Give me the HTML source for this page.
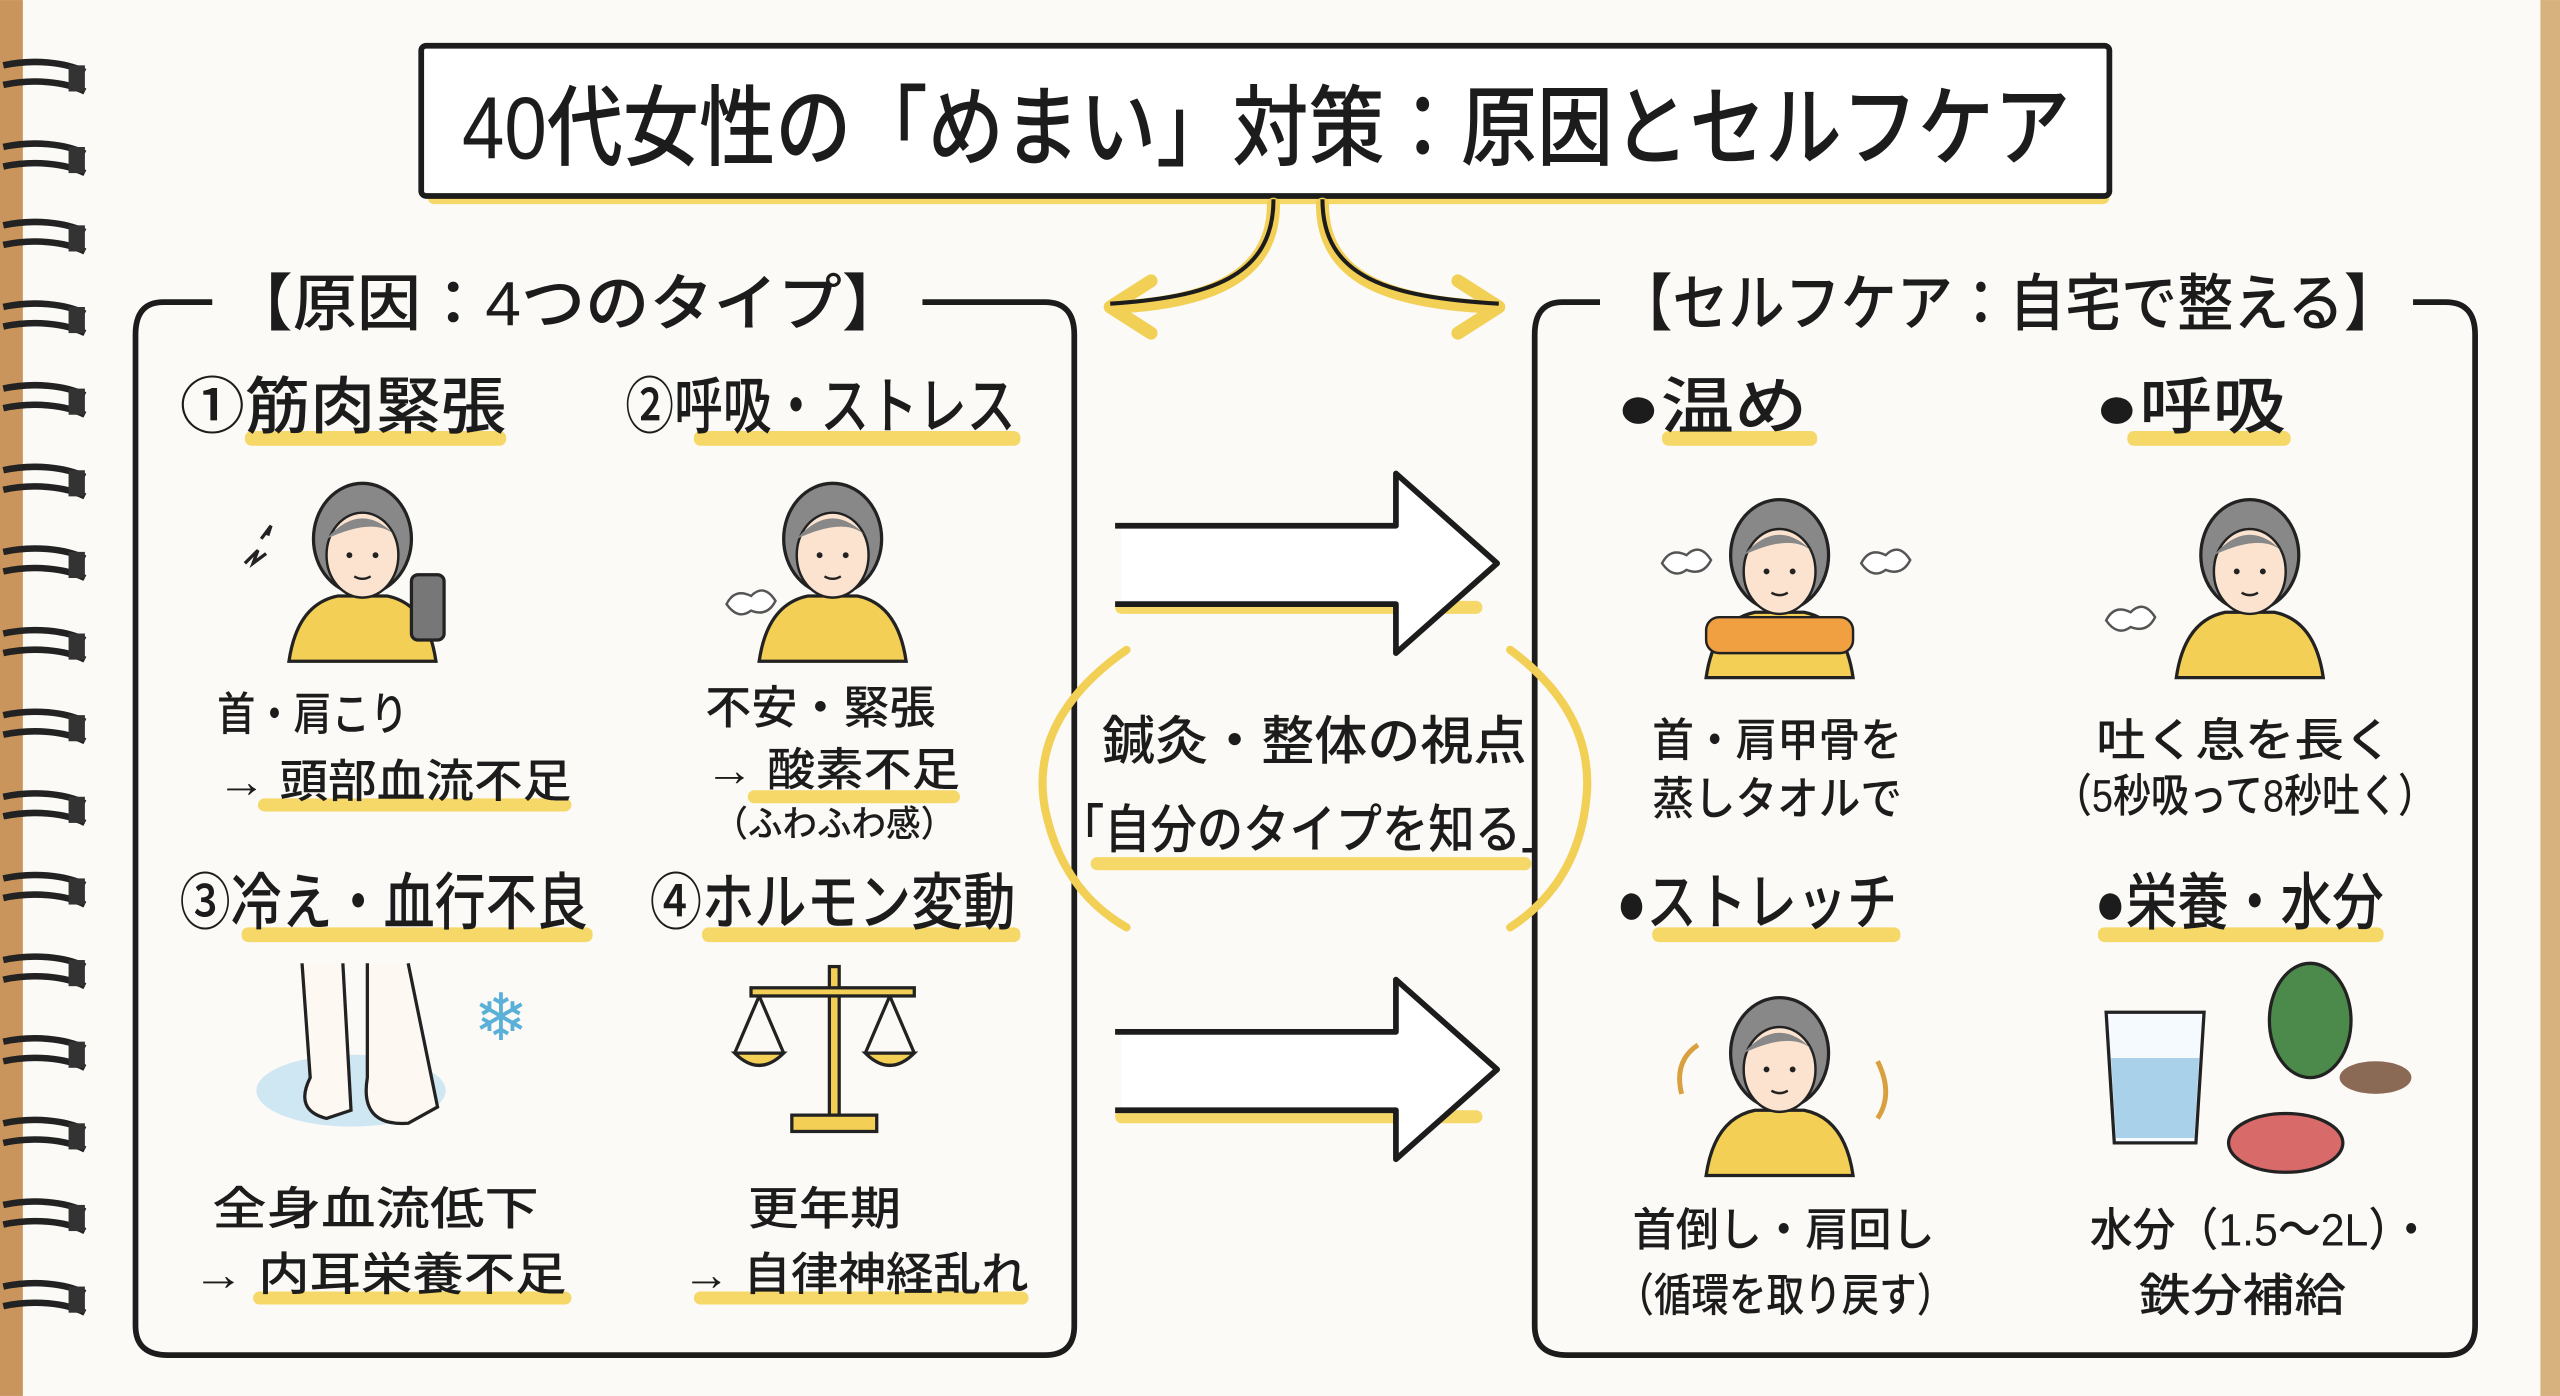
<!DOCTYPE html>
<html><head><meta charset="utf-8">
<style>
html,body{margin:0;padding:0;background:#fbfaf6;}
svg{display:block;}
text{font-family:"Liberation Sans","Noto Sans CJK JP",sans-serif;fill:#1c1c1c;font-weight:500;}
</style></head>
<body>
<svg width="2560" height="1396" viewBox="0 0 1568 855" xmlns="http://www.w3.org/2000/svg">
<rect width="1568" height="855" fill="#fbfaf6"/>
<rect x="0" y="0" width="14" height="855" fill="#c9955c"/>
<rect x="1556" y="0" width="12" height="855" fill="#d8b27e"/>
<g fill="none" stroke="#222" stroke-width="4">
<path d="M2,40 C20,36 40,38 52,44 M2,52 C20,48 40,50 52,56 M2,90 C20,86 40,88 52,94 M2,102 C20,98 40,100 52,106 M2,138 C20,134 40,136 52,142 M2,150 C20,146 40,148 52,154 M2,188 C20,184 40,186 52,192 M2,200 C20,196 40,198 52,204 M2,238 C20,234 40,236 52,242 M2,250 C20,246 40,248 52,254 M2,288 C20,284 40,286 52,292 M2,300 C20,296 40,298 52,304 M2,338 C20,334 40,336 52,342 M2,350 C20,346 40,348 52,354 M2,388 C20,384 40,386 52,392 M2,400 C20,396 40,398 52,404 M2,438 C20,434 40,436 52,442 M2,450 C20,446 40,448 52,454 M2,488 C20,484 40,486 52,492 M2,500 C20,496 40,498 52,504 M2,538 C20,534 40,536 52,542 M2,550 C20,546 40,548 52,554 M2,588 C20,584 40,586 52,592 M2,600 C20,596 40,598 52,604 M2,638 C20,634 40,636 52,642 M2,650 C20,646 40,648 52,654 M2,688 C20,684 40,686 52,692 M2,700 C20,696 40,698 52,704 M2,738 C20,734 40,736 52,742 M2,750 C20,746 40,748 52,754 M2,788 C20,784 40,786 52,792 M2,800 C20,796 40,798 52,804"/>
</g>
<g fill="#333">
<rect x="42" y="40" width="10" height="16"/><rect x="42" y="90" width="10" height="16"/><rect x="42" y="138" width="10" height="16"/><rect x="42" y="188" width="10" height="16"/><rect x="42" y="238" width="10" height="16"/><rect x="42" y="288" width="10" height="16"/><rect x="42" y="338" width="10" height="16"/><rect x="42" y="388" width="10" height="16"/><rect x="42" y="438" width="10" height="16"/><rect x="42" y="488" width="10" height="16"/><rect x="42" y="538" width="10" height="16"/><rect x="42" y="588" width="10" height="16"/><rect x="42" y="638" width="10" height="16"/><rect x="42" y="688" width="10" height="16"/><rect x="42" y="738" width="10" height="16"/><rect x="42" y="788" width="10" height="16"/>
</g>

<rect x="262" y="116" width="1030" height="9" fill="#f5d867" rx="4"/>
<rect x="258" y="28" width="1034" height="92" fill="#fff" stroke="#1c1c1c" stroke-width="3.5" rx="3"/>
<text x="283" y="97" font-size="54" font-weight="700" textLength="985" lengthAdjust="spacingAndGlyphs">40代女性の「めまい」対策：原因とセルフケア</text>

<g fill="none" stroke="#f2cf55" stroke-width="8" stroke-linecap="round" stroke-linejoin="round">
<path d="M780,125 C780,170 740,185 685,188"/>
<path d="M810,125 C810,170 850,185 912,188"/>
<path d="M705,172 L680,188 L705,204"/>
<path d="M893,172 L918,188 L893,204"/>
</g>
<g fill="none" stroke="#1c1c1c" stroke-width="2.5">
<path d="M780,122 C780,170 740,182 680,186 M810,122 C810,170 850,182 918,186"/>
</g>

<path d="M130,185 L100,185 Q83,185 83,205 L83,812 Q83,830 103,830 L640,830 Q658,830 658,812 L658,205 Q658,185 640,185 L565,185" fill="none" stroke="#1c1c1c" stroke-width="3.5"/>
<text x="140" y="199" font-size="38" textLength="415" lengthAdjust="spacingAndGlyphs">【原因：4つのタイプ】</text>

<path d="M980,185 L957,185 Q940,185 940,205 L940,812 Q940,830 960,830 L1498,830 Q1516,830 1516,812 L1516,205 Q1516,185 1498,185 L1478,185" fill="none" stroke="#1c1c1c" stroke-width="3.5"/>
<text x="990" y="199" font-size="38" textLength="480" lengthAdjust="spacingAndGlyphs">【セルフケア：自宅で整える】</text>

<g fill="#f5d867">
<rect x="150" y="264" width="160" height="9" rx="4"/>
<rect x="425" y="264" width="200" height="9" rx="4"/>
<rect x="158" y="489" width="192" height="8" rx="4"/>
<rect x="458" y="484" width="130" height="8" rx="4"/>
<rect x="148" y="568" width="215" height="9" rx="4"/>
<rect x="430" y="568" width="195" height="9" rx="4"/>
<rect x="155" y="791" width="195" height="8" rx="4"/>
<rect x="425" y="791" width="205" height="8" rx="4"/>
<rect x="1018" y="264" width="95" height="9" rx="4"/>
<rect x="1303" y="264" width="100" height="9" rx="4"/>
<rect x="1012" y="568" width="152" height="9" rx="4"/>
<rect x="1285" y="568" width="175" height="9" rx="4"/>
<rect x="683" y="368" width="225" height="8" rx="4"/>
<rect x="683" y="680" width="225" height="8" rx="4"/>
<rect x="668" y="525" width="270" height="8" rx="4"/>
</g>

<g font-size="38">
<text x="110" y="262" textLength="200" lengthAdjust="spacingAndGlyphs">①筋肉緊張</text>
<text x="383" y="262" textLength="239" lengthAdjust="spacingAndGlyphs">②呼吸・ストレス</text>
<text x="110" y="566" textLength="250" lengthAdjust="spacingAndGlyphs">③冷え・血行不良</text>
<text x="398" y="566" textLength="224" lengthAdjust="spacingAndGlyphs">④ホルモン変動</text>
<text x="990" y="262" textLength="117" lengthAdjust="spacingAndGlyphs">●温め</text>
<text x="1283" y="262" textLength="117" lengthAdjust="spacingAndGlyphs">●呼吸</text>
<text x="990" y="566" textLength="172" lengthAdjust="spacingAndGlyphs">●ストレッチ</text>
<text x="1283" y="566" textLength="177" lengthAdjust="spacingAndGlyphs">●栄養・水分</text>
</g>

<g font-size="28" lengthAdjust="spacingAndGlyphs">
<text x="133" y="447" textLength="117" lengthAdjust="spacingAndGlyphs">首・肩こり</text>
<text x="133" y="488" textLength="217" lengthAdjust="spacingAndGlyphs">→ 頭部血流不足</text>
<text x="432" y="443" textLength="141" lengthAdjust="spacingAndGlyphs">不安・緊張</text>
<text x="432" y="481" textLength="156" lengthAdjust="spacingAndGlyphs">→ 酸素不足</text>
<text x="437" y="512" font-size="22" textLength="148" lengthAdjust="spacingAndGlyphs">（ふわふわ感）</text>
<text x="130" y="750" textLength="200" lengthAdjust="spacingAndGlyphs">全身血流低下</text>
<text x="118" y="790" textLength="229" lengthAdjust="spacingAndGlyphs">→ 内耳栄養不足</text>
<text x="458" y="750" textLength="94" lengthAdjust="spacingAndGlyphs">更年期</text>
<text x="418" y="790" textLength="212" lengthAdjust="spacingAndGlyphs">→ 自律神経乱れ</text>
<text x="1012" y="463" textLength="153" lengthAdjust="spacingAndGlyphs">首・肩甲骨を</text>
<text x="1012" y="499" textLength="153" lengthAdjust="spacingAndGlyphs">蒸しタオルで</text>
<text x="1284" y="463" textLength="182" lengthAdjust="spacingAndGlyphs">吐く息を長く</text>
<text x="1258" y="497" textLength="234" lengthAdjust="spacingAndGlyphs">（5秒吸って8秒吐く）</text>
<text x="1000" y="763" textLength="185" lengthAdjust="spacingAndGlyphs">首倒し・肩回し</text>
<text x="990" y="803" textLength="207" lengthAdjust="spacingAndGlyphs">（循環を取り戻す）</text>
<text x="1280" y="763" textLength="210" lengthAdjust="spacingAndGlyphs">水分（1.5〜2L）・</text>
<text x="1310" y="803" textLength="127" lengthAdjust="spacingAndGlyphs">鉄分補給</text>
</g>

<g fill="none" stroke="#f2cf55" stroke-width="5" stroke-linecap="round">
<path d="M690,398 Q630,440 640,495 Q650,545 690,568"/>
<path d="M925,398 Q975,435 972,485 Q968,540 925,568"/>
</g>
<text x="675" y="465" font-size="32" textLength="260" lengthAdjust="spacingAndGlyphs">鍼灸・整体の視点</text>
<text x="648" y="519" font-size="32" textLength="312" lengthAdjust="spacingAndGlyphs">「自分のタイプを知る」</text>

<g fill="#fff" stroke="#1c1c1c" stroke-width="3.5" stroke-linejoin="round">
<path d="M683,322 L855,322 L855,290 L917,345 L855,400 L855,370 L683,370" />
<path d="M683,632 L855,632 L855,600 L917,655 L855,710 L855,680 L683,680" />
</g>
<rect x="681" y="324" width="6" height="44" fill="#fbfaf6"/>
<rect x="681" y="634" width="6" height="44" fill="#fbfaf6"/>

<defs>
<g id="person">
<path d="M-45,70 Q-40,35 -15,30 L15,30 Q40,35 45,70 Z" fill="#f3cf55" stroke="#222" stroke-width="2"/>
<ellipse cx="0" cy="-5" rx="30" ry="34" fill="#888" stroke="#222" stroke-width="2"/>
<ellipse cx="0" cy="5" rx="22" ry="26" fill="#fbe3cf" stroke="#222" stroke-width="1.5"/>
<path d="M-22,-5 Q0,-30 22,-5 Q10,-20 -22,-5Z" fill="#888"/>
<circle cx="-8" cy="5" r="1.8" fill="#222"/><circle cx="8" cy="5" r="1.8" fill="#222"/>
<path d="M-5,18 Q0,21 5,18" stroke="#222" fill="none" stroke-width="1.5"/>
</g>
</defs>
<use href="#person" x="222" y="335"/>
<rect x="252" y="352" width="20" height="40" rx="4" fill="#777" stroke="#222" stroke-width="2"/>
<path d="M150,345 l8,-8 -3,8 8,-6 M160,330 l6,-8 -2,6" stroke="#222" fill="none" stroke-width="2"/>
<use href="#person" x="510" y="335"/>
<path d="M445,370 q5,-10 15,-5 q8,-8 15,3 q-5,10 -15,6 q-8,6 -15,-4z" fill="#fff" stroke="#555" stroke-width="1.5"/>
<use href="#person" x="1090" y="345"/>
<rect x="1045" y="378" width="90" height="22" rx="8" fill="#f0a040" stroke="#222" stroke-width="1.5"/>
<path d="M1018,345 q5,-10 15,-5 q8,-8 15,3 q-5,10 -15,6 q-8,6 -15,-4z M1140,345 q5,-10 15,-5 q8,-8 15,3 q-5,10 -15,6 q-8,6 -15,-4z" fill="#fff" stroke="#555" stroke-width="1.5"/>
<use href="#person" x="1378" y="345"/>
<path d="M1290,380 q5,-10 15,-5 q8,-8 15,3 q-5,10 -15,6 q-8,6 -15,-4z" fill="#fff" stroke="#555" stroke-width="1.5"/>
<use href="#person" x="1090" y="650"/>
<path d="M1040,640 q-15,10 -10,30 M1150,685 q10,-15 0,-35" stroke="#d9a040" fill="none" stroke-width="3"/>

<ellipse cx="215" cy="668" rx="58" ry="22" fill="#cfe6f3"/>
<path d="M185,590 L190,660 Q180,680 200,685 L215,680 L210,590 M225,590 L225,660 Q220,690 250,688 L268,678 L250,590" fill="#fdf8f2" stroke="#222" stroke-width="2"/>
<text x="290" y="637" font-size="40" style="fill:#5bb0d8">❄</text>
<g stroke="#222" stroke-width="2" fill="#f3cf55">
<rect x="508" y="592" width="6" height="95"/>
<rect x="485" y="683" width="52" height="10"/>
<rect x="460" y="605" width="100" height="5"/>
<path d="M450,645 q15,15 30,0 z M530,645 q15,15 30,0 z"/>
<path d="M465,610 L450,645 M465,610 L480,645 M545,610 L530,645 M545,610 L560,645" fill="none"/>
</g>
<path d="M1290,620 L1350,620 L1345,700 L1295,700 Z" fill="#f5faff" stroke="#222" stroke-width="2"/>
<path d="M1293,648 L1347,648 L1344,697 L1296,697 Z" fill="#a9d2ea"/>
<ellipse cx="1415" cy="625" rx="25" ry="35" fill="#4b8a4a" stroke="#222" stroke-width="2"/>
<ellipse cx="1400" cy="700" rx="35" ry="18" fill="#d86a6a" stroke="#222" stroke-width="2"/>
<ellipse cx="1455" cy="660" rx="22" ry="10" fill="#8a6a55"/>
</svg>
</body></html>
